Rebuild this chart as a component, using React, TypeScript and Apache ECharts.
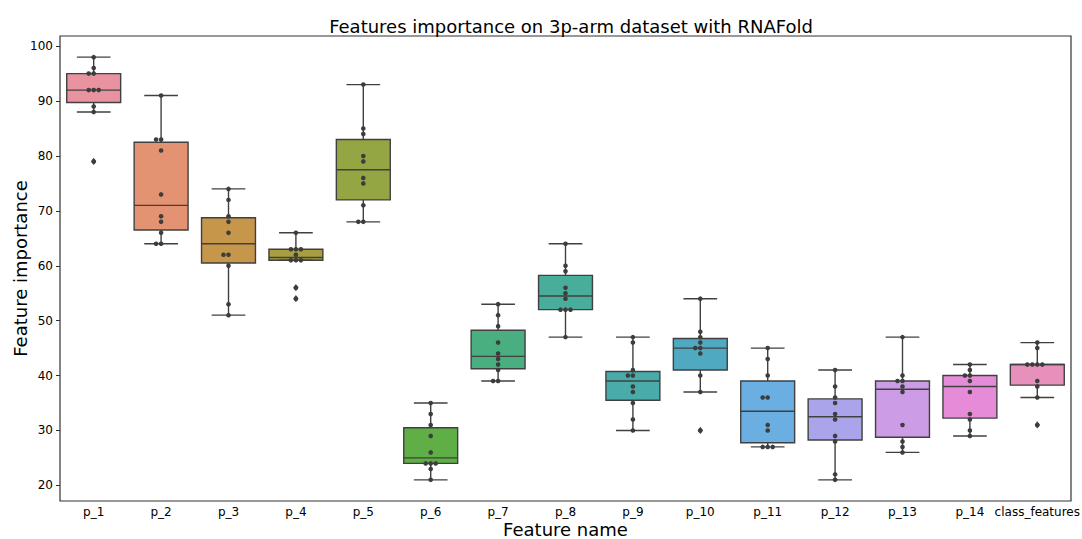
import React, { useEffect, useRef } from "react";
import * as echarts from "echarts";

const categories = ["p_1", "p_2", "p_3", "p_4", "p_5", "p_6", "p_7", "p_8", "p_9", "p_10", "p_11", "p_12", "p_13", "p_14", "class_features"];

const p1 = [98, 96, 95, 95, 92, 92, 92, 89, 88, 79];
const p2 = [91, 83, 83, 81, 73, 69, 68, 66, 64, 64];
const p3 = [74, 72, 69, 68, 66, 62, 62, 60, 53, 51];
const p4 = [66, 63, 63, 63, 62, 61, 61, 61, 56, 54];
const p5 = [93, 85, 84, 80, 79, 76, 75, 71, 68, 68];
const p6 = [35, 33, 31, 29, 26, 24, 24, 24, 23, 21];
const p7 = [53, 51, 49, 46, 44, 43, 42, 41, 39, 39];
const p8 = [64, 60, 59, 56, 55, 54, 52, 52, 52, 47];
const p9 = [47, 46, 41, 40, 40, 38, 37, 35, 32, 30];
const p10 = [54, 48, 47, 46, 45, 45, 44, 40, 37, 30];
const p11 = [45, 43, 40, 36, 36, 31, 30, 27, 27, 27];
const p12 = [41, 38, 36, 35, 33, 32, 29, 28, 22, 21];
const p13 = [47, 40, 39, 39, 38, 37, 31, 28, 27, 26];
const p14 = [42, 41, 40, 40, 39, 37, 33, 32, 30, 29];
const classFeatures = [46, 45, 42, 42, 42, 42, 39, 38, 36, 31];

const seriesValues = [p1, p2, p3, p4, p5, p6, p7, p8, p9, p10, p11, p12, p13, p14, classFeatures];

const yTicks = [20, 30, 40, 50, 60, 70, 80, 90, 100];

const boxColors = ["#e8939f", "#e49372", "#c6974a", "#a99f41", "#94a543", "#5fae46", "#4aaf80", "#48ad9b", "#4aabab", "#4ea9c1", "#6aaee2", "#aaa5ea", "#cd9ce6", "#e68bd8", "#e890bc"];

function quantile(sorted: number[], q: number) {
  const pos = (sorted.length - 1) * q;
  const lo = Math.floor(pos);
  const hi = Math.ceil(pos);
  return sorted[lo] + (sorted[hi] - sorted[lo]) * (pos - lo);
}

function boxStats(vals: number[]) {
  const s = [...vals].sort((a, b) => a - b);
  const q1 = quantile(s, 0.25);
  const med = quantile(s, 0.5);
  const q3 = quantile(s, 0.75);
  const iqr = q3 - q1;
  const inside = s.filter((v) => v >= q1 - 1.5 * iqr && v <= q3 + 1.5 * iqr);
  const lo = inside[0];
  const hi = inside[inside.length - 1];
  const outliers = s.filter((v) => v < lo || v > hi);
  return { lo, q1, med, q3, hi, outliers };
}

function swarmSlots(vals: number[]) {
  const placed: { v: number; slot: number }[] = [];
  const order = [...vals].sort((a, b) => a - b);
  for (const v of order) {
    const cands = [0, -1, 1, -2, 2, -3, 3, -4, 4];
    for (const c of cands) {
      if (!placed.some((p) => p.slot === c && Math.abs(p.v - v) < 0.9)) {
        placed.push({ v, slot: c });
        break;
      }
    }
  }
  return placed;
}

export default function App() {
  const ref = useRef<HTMLDivElement>(null);
  useEffect(() => {
    document.body.style.margin = "0";
    if (!ref.current) return;
    const chart = echarts.init(ref.current, undefined, { renderer: "svg" });
    const stats = seriesValues.map(boxStats);
    const boxData = stats.map((s, i) => [i, s.lo, s.q1, s.med, s.q3, s.hi]);
    const pointData: number[][] = [];
    seriesValues.forEach((vals, i) => {
      swarmSlots(vals).forEach((p) => pointData.push([i, p.v, p.slot]));
    });
    const outlierData: number[][] = [];
    stats.forEach((s, i) => s.outliers.forEach((v) => outlierData.push([i, v])));
    const all = seriesValues.flat();
    const dMin = Math.min(...all);
    const dMax = Math.max(...all);
    const pad = (dMax - dMin) * 0.05;
    const font = "DejaVu Sans";
    const lineColor = "#404040";

    chart.setOption({
      animation: false,
      title: {
        text: "Features importance on 3p-arm dataset with RNAFold",
        left: 566,
        top: 12,
        textAlign: "center",
        textStyle: { fontSize: 18, fontWeight: "normal", fontFamily: font, color: "#000" },
      },
      grid: { left: 60, right: 11, top: 36, bottom: 38, show: true, borderColor: "#333", borderWidth: 1.2, backgroundColor: "transparent", outerBoundsMode: "none", containLabel: false },
      xAxis: {
        type: "category",
        data: categories,
        name: "Feature name",
        nameLocation: "middle",
        nameGap: 20,
        nameMoveOverlap: false,
        nameTextStyle: { fontSize: 18, lineHeight: 16, fontFamily: font, color: "#000" },
        axisLine: { show: false },
        axisTick: { alignWithLabel: true, length: 4, lineStyle: { color: "#333" } },
        axisLabel: { interval: 0, fontSize: 12, lineHeight: 12, fontFamily: font, color: "#000", margin: 5 },
        splitLine: { show: false },
      },
      yAxis: {
        type: "value",
        min: dMin - pad,
        max: dMax + pad,
        name: "Feature importance",
        nameLocation: "middle",
        nameGap: 31,
        nameMoveOverlap: false,
        nameTextStyle: { fontSize: 18, lineHeight: 18, fontFamily: font, color: "#000" },
        axisLine: { show: false },
        axisTick: { show: true, length: 4, lineStyle: { color: "#333" }, customValues: yTicks },
        axisLabel: { fontSize: 12, fontFamily: font, color: "#000", margin: 7, customValues: yTicks },
        splitLine: { show: false },
      },
      series: [
        {
          type: "custom",
          name: "box",
          data: boxData,
          encode: { x: 0, y: [1, 2, 3, 4, 5] },
          renderItem: (params: any, api: any) => {
            const x = api.value(0);
            const lo = api.coord([x, api.value(1)]);
            const q1 = api.coord([x, api.value(2)]);
            const md = api.coord([x, api.value(3)]);
            const q3 = api.coord([x, api.value(4)]);
            const hi = api.coord([x, api.value(5)]);
            const band = api.size([1, 0])[0];
            const bw = band * 0.8;
            const cw = band * 0.5;
            const cx = lo[0];
            const ls = { stroke: lineColor, lineWidth: 1.4 };
            return {
              type: "group",
              children: [
                { type: "rect", shape: { x: cx - bw / 2, y: q3[1], width: bw, height: q1[1] - q3[1] }, style: { fill: boxColors[params.dataIndex], stroke: lineColor, lineWidth: 1.4 } },
                { type: "line", shape: { x1: cx, y1: q1[1], x2: cx, y2: lo[1] }, style: ls },
                { type: "line", shape: { x1: cx, y1: q3[1], x2: cx, y2: hi[1] }, style: ls },
                { type: "line", shape: { x1: cx - cw / 2, y1: lo[1], x2: cx + cw / 2, y2: lo[1] }, style: ls },
                { type: "line", shape: { x1: cx - cw / 2, y1: hi[1], x2: cx + cw / 2, y2: hi[1] }, style: ls },
                { type: "line", shape: { x1: cx - bw / 2, y1: md[1], x2: cx + bw / 2, y2: md[1] }, style: ls },
              ],
            };
          },
        },
        {
          type: "custom",
          name: "outliers",
          data: outlierData,
          encode: { x: 0, y: 1 },
          renderItem: (_params: any, api: any) => {
            const p = api.coord([api.value(0), api.value(1)]);
            return {
              type: "polygon",
              shape: { points: [[p[0], p[1] - 3.6], [p[0] + 2.6, p[1]], [p[0], p[1] + 3.6], [p[0] - 2.6, p[1]]] },
              style: { fill: "#3d3d3d" },
            };
          },
        },
        {
          type: "custom",
          name: "points",
          data: pointData,
          encode: { x: 0, y: 1 },
          renderItem: (_params: any, api: any) => {
            const p = api.coord([api.value(0), api.value(1)]);
            return {
              type: "circle",
              shape: { cx: p[0] + api.value(2) * 5, cy: p[1], r: 2.3 },
              style: { fill: "#3d3d3d" },
            };
          },
        },
      ],
    });
    return () => chart.dispose();
  }, []);
  return <div ref={ref} style={{ width: 1082, height: 539 }} />;
}
